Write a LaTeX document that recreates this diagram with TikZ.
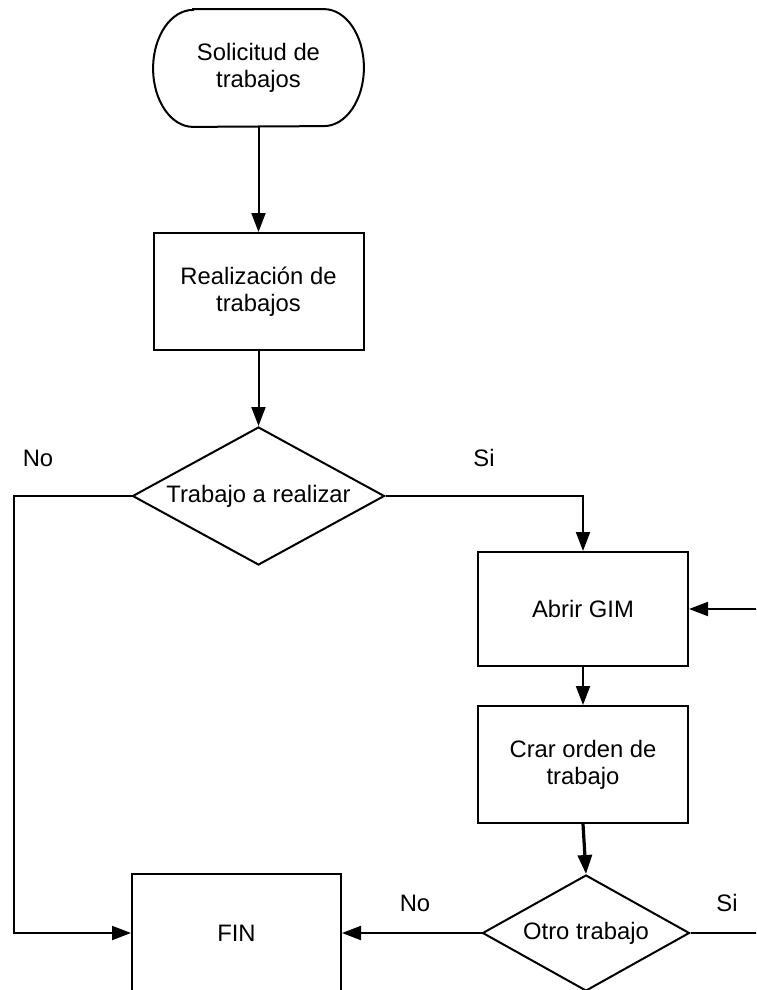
\documentclass[tikz,border=0pt]{standalone}
\usepackage{fontspec}
\setmainfont{Liberation Sans}
\usetikzlibrary{shapes.geometric,arrows.meta}
\begin{document}
\begin{tikzpicture}[x=0.5pt,y=-0.5pt,
  every node/.style={font=\fontsize{11.9}{13.6}\selectfont, text=black},
  line/.style={draw=black, line width=1pt},
  flow/.style={line, -{Triangle[length=9.5pt,width=7pt]}},
  procbox/.style={draw=black, line width=1pt, rectangle, minimum width=105pt,
    minimum height=58.5pt, align=center, inner sep=0pt},
  termbox/.style={rectangle, minimum width=105pt, minimum height=58.5pt,
    align=center, inner sep=0pt},
  decide/.style={draw=black, line width=1pt, diamond, inner sep=0pt, align=center},
  lbl/.style={inner sep=0pt}
]
\useasboundingbox (0,0) rectangle (756,990);
\clip (0,0) rectangle (756,990);

% process steps
\node[termbox] (start) at (258.5,68) {Solicitud de\\trabajos};
\node[procbox] (realiz) at (258.5,291.5) {Realización de\\trabajos};
\node[decide, minimum width=126pt, minimum height=69pt, aspect=1.826] (dec1) at (258.5,496) {Trabajo a realizar};
\node[procbox, minimum height=57pt] (abrir) at (583,609) {Abrir GIM};
\node[procbox] (crear) at (583,764.5) {Crar orden de\\trabajo};
\node[decide, minimum width=103.5pt, minimum height=58pt, aspect=1.785] (dec2) at (586,933) {Otro trabajo};
\node[procbox, minimum width=104.5pt, minimum height=59pt] (fin) at (236.5,933) {FIN};

% terminal outline with elliptical ends
\draw[line] ([xshift=20pt]start.north west) -- ([xshift=-20pt]start.north east)
  arc[start angle=90, end angle=-90, x radius=20pt, y radius=29.25pt]
  -- ([xshift=20pt]start.south west)
  arc[start angle=270, end angle=90, x radius=20pt, y radius=29.25pt] -- cycle;

% branch labels
\node[lbl] (no1) at (38,458) {No};
\node[lbl] (si1) at (484,458) {Si};
\node[lbl] (no2) at (415,903) {No};
\node[lbl] (si2) at (727,903) {Si};

% loop-back route beyond the right edge
\coordinate (loopA) at (790,933);
\coordinate (loopB) at (790,609);
\coordinate (leftX) at (14,496);

% connectors
\draw[flow] (start) -- (realiz);
\draw[flow] (realiz) -- (dec1);
\draw[flow] (dec1.west) -- (leftX) |- (fin.west);
\draw[flow] (dec1.east) -| (abrir.north);
\draw[flow] (abrir) -- (crear);
\draw[flow, line width=1.6pt] (crear.south) -- (dec2.north);
\draw[flow] (dec2.west) -- (fin.east);
\draw[flow] (dec2.east) -- (loopA) -- (loopB) -- (abrir.east);
\end{tikzpicture}
\end{document}
